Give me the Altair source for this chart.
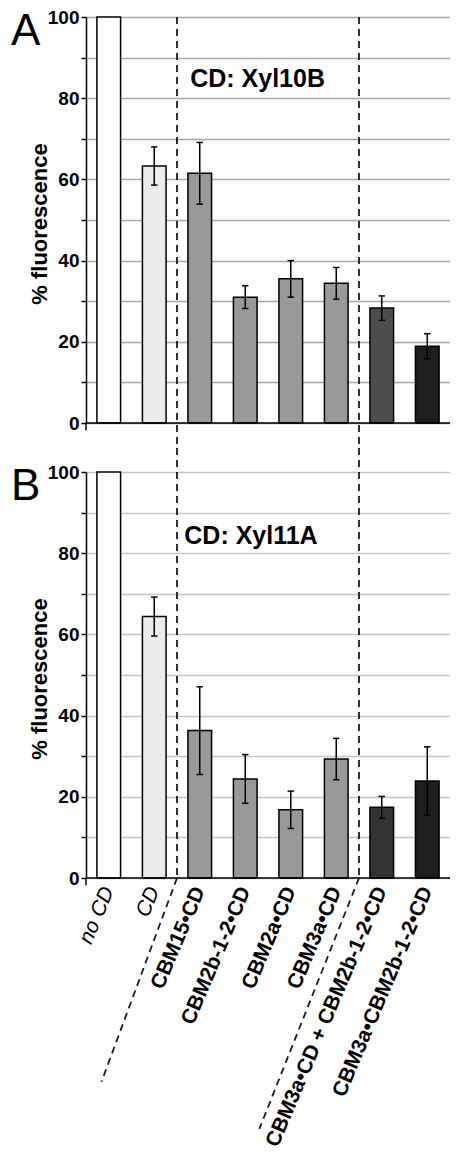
import altair as alt
import pandas as pd

# ---------------- data ----------------
categories = ["no CD", "CD", "CBM15•CD", "CBM2b-1-2•CD", "CBM2a•CD", "CBM3a•CD",
              "CBM3a•CD + CBM2b-1-2•CD", "CBM3a•CBM2b-1-2•CD"]
xyl10b_mean = [100, 63.3, 61.5, 31.0, 35.5, 34.4, 28.3, 18.9]
xyl10b_err = [0, 4.7, 7.6, 2.8, 4.5, 3.9, 3.0, 3.1]
xyl11a_mean = [100, 64.4, 36.3, 24.4, 16.8, 29.3, 17.4, 23.9]
xyl11a_err = [0, 4.8, 10.8, 6.0, 4.6, 5.1, 2.7, 8.4]
fills_10b = ["#ffffff", "#ebebeb", "#999999", "#999999", "#999999", "#999999", "#4d4d4d", "#1e1e1e"]
fills_11a = ["#ffffff", "#ebebeb", "#999999", "#999999", "#999999", "#999999", "#333333", "#1e1e1e"]
panel_letters = ["A", "B"]
panel_titles = ["CD: Xyl10B", "CD: Xyl11A"]
y_title = "% fluorescence"
y_ticks = list(range(0, 101, 10))
separator_after = [1, 5]  # dashed separators after these category indices

# ---------------- layout ----------------
W = 364
PAD_LEFT = 78
PAD_TOP = 9
TOTAL_H = 1137
PANEL_H = 406
GAP = 49
A_TOP, B_TOP = 0, PANEL_H + GAP
FONT = "Liberation Sans"
xs = alt.Scale(domain=[-0.5, 7.5], nice=False, zero=False)
PX = PANEL_H / 100.0  # pixels per y unit


def yscale(top):
    return alt.Scale(domain=[0, 100], range=[top + PANEL_H, top], nice=False, zero=False)


def panel(means, errs, fills, letter, title, title_pos, grid_color, top, sep_df, show_labels):
    ys = yscale(top)
    df = pd.DataFrame({"idx": list(range(len(categories))), "cat": categories,
                       "mean": means, "err": errs, "fill": fills})
    base = alt.Chart(df)

    bars = base.mark_bar(stroke="black", strokeWidth=1.5).transform_calculate(
        x0="datum.idx - 0.26", x1="datum.idx + 0.26"
    ).encode(
        x=alt.X("x0:Q", scale=xs, axis=None),
        x2="x1:Q",
        y=alt.Y("mean:Q", scale=ys, axis=alt.Axis(
            orient="left",
            values=y_ticks, labelExpr="datum.value % 20 == 0 ? datum.label : ''",
            grid=True, gridColor=grid_color, gridWidth=1.5,
            tickColor="black", tickSize=5, tickWidth=1.5,
            domainColor="black", domainWidth=1.5,
            labelFont=FONT, labelFontSize=19, labelFontWeight="bold", labelColor="black",
            labelPadding=2, title=None)),
        y2=alt.datum(0),
        fill=alt.Fill("fill:N", scale=None),
    )

    eb = base.transform_filter("datum.err > 0").transform_calculate(
        lo="datum.mean - datum.err", hi="datum.mean + datum.err",
        c0="datum.idx - 0.07", c1="datum.idx + 0.07")
    err_v = eb.mark_rule(color="black", strokeWidth=1.5).encode(
        x=alt.X("idx:Q", scale=xs, axis=None), y=alt.Y("lo:Q", scale=ys, axis=None), y2="hi:Q")
    cap_hi = eb.mark_rule(color="black", strokeWidth=1.5).encode(
        x=alt.X("c0:Q", scale=xs, axis=None), x2="c1:Q", y=alt.Y("hi:Q", scale=ys, axis=None))
    cap_lo = eb.mark_rule(color="black", strokeWidth=1.5).encode(
        x=alt.X("c0:Q", scale=xs, axis=None), x2="c1:Q", y=alt.Y("lo:Q", scale=ys, axis=None))

    # baseline (x axis line) and the short y-axis extension below zero
    frame = pd.DataFrame({"x": [-0.5, -0.5], "x2": [7.5, -0.5], "y": [0, 0], "y2": [0, -1.8]})
    frame_r = alt.Chart(frame).mark_rule(color="black", strokeWidth=1.5).encode(
        x=alt.X("x:Q", scale=xs, axis=None), x2="x2:Q",
        y=alt.Y("y:Q", scale=ys, axis=None), y2="y2:Q")

    seps = alt.Chart(sep_df).mark_rule(color="#1a1a1a", strokeWidth=1.8, strokeDash=[7, 5]).encode(
        x=alt.X("x:Q", scale=xs, axis=None), x2="x2:Q",
        y=alt.Y("y:Q", scale=ys, axis=None), y2="y2:Q")

    letter_t = alt.Chart(pd.DataFrame({"t": [letter]})).mark_text(
        font=FONT, fontSize=44, align="left", baseline="top", color="black").encode(
        text="t:N", x=alt.value(-PAD_LEFT + 3), y=alt.value(top - 7))

    ytitle = alt.Chart(pd.DataFrame({"t": [y_title]})).mark_text(
        font=FONT, fontSize=22, fontWeight="bold", angle=270, align="center",
        baseline="middle", color="black").encode(
        text="t:N", x=alt.value(-46), y=alt.value(top + PANEL_H / 2 + 4))

    ptitle = alt.Chart(pd.DataFrame({"t": [title], "x": [title_pos[0]], "y": [title_pos[1]]})).mark_text(
        font=FONT, fontSize=25, fontWeight="bold", align="left", baseline="middle", color="black").encode(
        text="t:N", x=alt.X("x:Q", scale=xs, axis=None), y=alt.Y("y:Q", scale=ys, axis=None))

    layers = [bars, err_v, cap_hi, cap_lo, frame_r, seps, letter_t, ytitle, ptitle]

    if show_labels:
        lab_it = base.transform_filter("datum.idx < 2").mark_text(
            font=FONT, fontSize=21, fontStyle="italic", angle=293, align="right",
            baseline="middle", color="black").encode(
            text="cat:N", x=alt.X("idx:Q", scale=xs, axis=None), y=alt.value(top + PANEL_H + 10))
        lab_b = base.transform_filter("datum.idx >= 2").mark_text(
            font=FONT, fontSize=21, fontWeight="bold", angle=293, align="right",
            baseline="middle", color="black").encode(
            text="cat:N", x=alt.X("idx:Q", scale=xs, axis=None), y=alt.value(top + PANEL_H + 10))
        layers += [lab_it, lab_b]
    return layers


ext_below = 25 / PX    # separator runs 25 px below panel A
ext_above = 24 / PX    # and starts 24 px above panel B
sep_a = pd.DataFrame({
    "x": [i + 0.5 for i in separator_after],
    "x2": [i + 0.5 for i in separator_after],
    "y": [100, 100], "y2": [-ext_below, -ext_below]})
sep_b = pd.DataFrame({
    "x": [i + 0.5 for i in separator_after] * 2,
    "x2": [i + 0.5 for i in separator_after] + [-0.16, 3.31],
    "y": [100 + ext_above, 100 + ext_above, 0, 0],
    "y2": [0, 0, -50.2, -61.8]})

layers_a = panel(xyl10b_mean, xyl10b_err, fills_10b, panel_letters[0], panel_titles[0],
                 (1.79, 84.7), "#a6a6a6", A_TOP, sep_a, False)
layers_b = panel(xyl11a_mean, xyl11a_err, fills_11a, panel_letters[1], panel_titles[1],
                 (1.66, 84.2), "#c4c4c4", B_TOP, sep_b, True)

chart = alt.layer(*(layers_a + layers_b)).resolve_scale(y="independent").resolve_axis(
    y="independent").properties(
    width=W, height=TOTAL_H,
    padding={"left": PAD_LEFT, "top": PAD_TOP, "right": 0, "bottom": 0},
    autosize=alt.AutoSizeParams(type="none"),
).configure_view(stroke=None)

chart.save("out.html", embed_options={"renderer": "svg", "actions": False})
